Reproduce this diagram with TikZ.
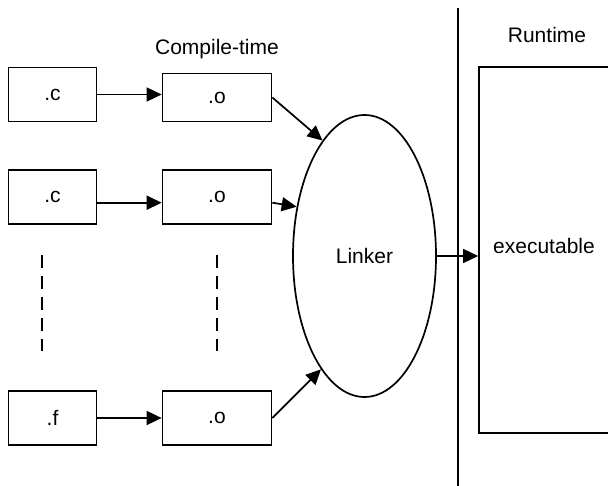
\documentclass[tikz,border=0pt]{standalone}
\usepackage{fontspec}
\setmainfont{Liberation Sans}
\usetikzlibrary{arrows.meta,positioning,shapes.geometric}
\tikzset{
  srcbox/.style ={draw, minimum width=88pt, minimum height=54pt,
                  inner sep=0pt, line width=1.7pt},
  objbox/.style ={draw, minimum width=109pt, minimum height=54pt,
                  inner sep=0pt, line width=1.7pt},
  runbox/.style ={draw, minimum width=130pt, minimum height=366pt,
                  inner sep=0pt, line width=1.7pt},
  linkv/.style  ={draw, ellipse, minimum width=143pt, minimum height=282pt,
                  inner sep=0pt, line width=1.7pt},
  flow/.style   ={-{Triangle[length=15pt,width=14pt]}, line width=1.7pt},
  gap/.style    ={line width=1.7pt, dash pattern=on 13pt off 8pt},
  divider/.style={line width=1.7pt},
  hdr/.style    ={inner sep=0pt},
}

\begin{document}
\begin{tikzpicture}[x=1pt, y=-1pt, font=\fontsize{21}{25}\selectfont]
\useasboundingbox (0,0) rectangle (608,486);
\node[srcbox] (c1) at (52.5,94.5) {.c};
\node[srcbox] (c2) at (52.5,196.7) {.c};
\node[srcbox] (f3) at (52.5,418) {.f};
\node[objbox, minimum height=48pt] (o1) at (217,97.5) {.o};
\node[objbox] (o2) at (217,196.7) {.o};
\node[objbox] (o3) at (217,418) {.o};
\node[linkv] (lk) at (364.5,256) {Linker};
\node[runbox, text depth=9pt] (exe) at (544,250) {executable};
\node[hdr] (ct) at (217,49) {Compile-time};
\node[hdr] (rt) at (547,35) {Runtime};
\coordinate (divtop) at (457.7,8.3);
\coordinate (divbot) at (457.7,486);
\coordinate (g1a) at (42,255);
\coordinate (g1b) at (42,351);
\coordinate (g2a) at (217,255);
\coordinate (g2b) at (217,351);
\draw[flow] (c1) -- (c1 -| o1.west);
\draw[flow] ([yshift=-6pt]c2.east) -- ([yshift=-6pt]c2.east -| o2.west);
\draw[flow] (f3) -- (f3 -| o3.west);
\draw[flow] (o1.east) -- (lk.110.8);
\draw[flow] ([yshift=-6pt]o2.east) -- (lk.144.4);
\draw[flow] (o3.east) -- (lk.249.3);
\draw[flow] (lk.east) -- (lk.east -| exe.west);
\draw[gap] (g1a) -- (g1b);
\draw[gap] (g2a) -- (g2b);
\draw[divider] (divtop) -- (divbot);
\end{tikzpicture}
\end{document}
